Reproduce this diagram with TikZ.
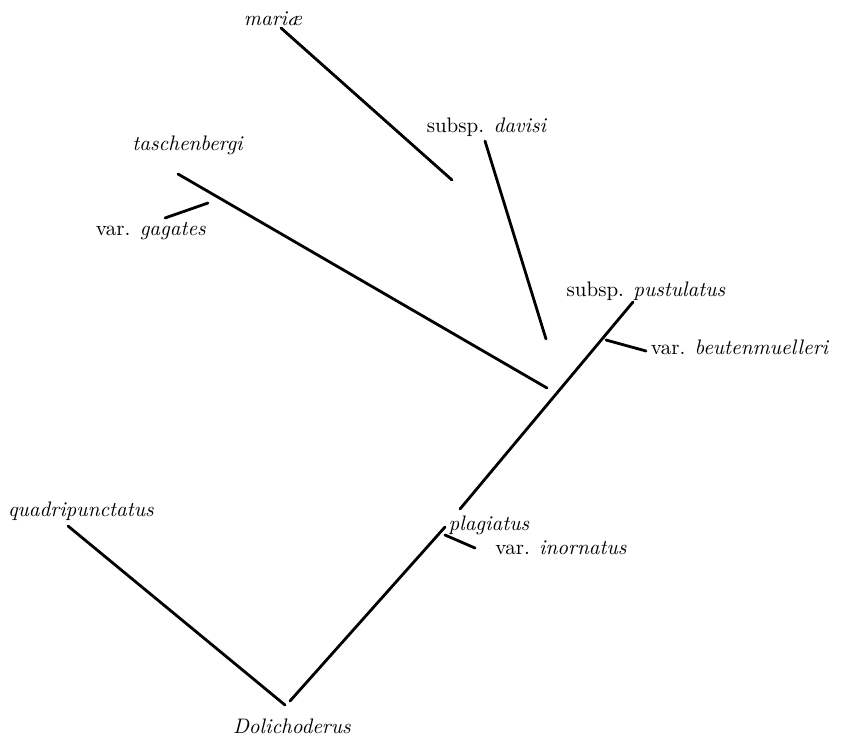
\documentclass[tikz,border=0pt]{standalone}
\usepackage{tikz}

\begin{document}
\begin{tikzpicture}[x=0.5pt,y=-0.5pt,
  branch/.style={line width=1.4pt, line cap=round},
  taxon/.style={anchor=base, inner sep=0pt, font=\fontsize{10.5}{12}\selectfont}]
         \useasboundingbox (0,0) rectangle (841,735);
         % labels
         \node [taxon] (mariae) at (273,25) {\textit{mari\ae}};
         \node [taxon] (taschenbergi) at (188,150) {\textit{taschenbergi}};
         \node [taxon] (gagates) at (151,235) {var. \textit{gagates}};
         \node [taxon] (davisi) at (487,132) {subsp. \textit{davisi}};
         \node [taxon] (pustulatus) at (646,296) {subsp. \textit{pustulatus}};
         \node [taxon] (beutenmuelleri) at (740,354) {var. \textit{beutenmuelleri}};
         \node [taxon] (quadripunctatus) at (81,516) {\textit{quadripunctatus}};
         \node [taxon] (plagiatus) at (489,530) {\textit{plagiatus}};
         \node [taxon] (inornatus) at (561,554) {var. \textit{inornatus}};
         \node [taxon] (dolichoderus) at (292,733) {\textit{Dolichoderus}};
         % branch ends
         \coordinate (m1) at (281,28);   \coordinate (m2) at (452,180);
         \coordinate (d1) at (485,141);  \coordinate (d2) at (546,339);
         \coordinate (t1) at (178,174);  \coordinate (t2) at (547,388);
         \coordinate (g1) at (165,218);  \coordinate (g2) at (208,203);
         \coordinate (p1) at (633,302);  \coordinate (p2) at (460,509);
         \coordinate (p3) at (445,527);  \coordinate (p4) at (290,701);
         \coordinate (b1) at (606,340);  \coordinate (b2) at (646,351);
         \coordinate (i1) at (445,535);  \coordinate (i2) at (475,548);
         \coordinate (q1) at (68,526);   \coordinate (q2) at (285,705);
         % branches
         \draw [branch] (m1) -- (m2);
         \draw [branch] (d1) -- (d2);
         \draw [branch] (t1) -- (t2);
         \draw [branch] (g1) -- (g2);
         \draw [branch] (p1) -- (p2);
         \draw [branch] (p3) -- (p4);
         \draw [branch] (b1) -- (b2);
         \draw [branch] (i1) -- (i2);
         \draw [branch] (q1) -- (q2);
\end{tikzpicture}
\end{document}
